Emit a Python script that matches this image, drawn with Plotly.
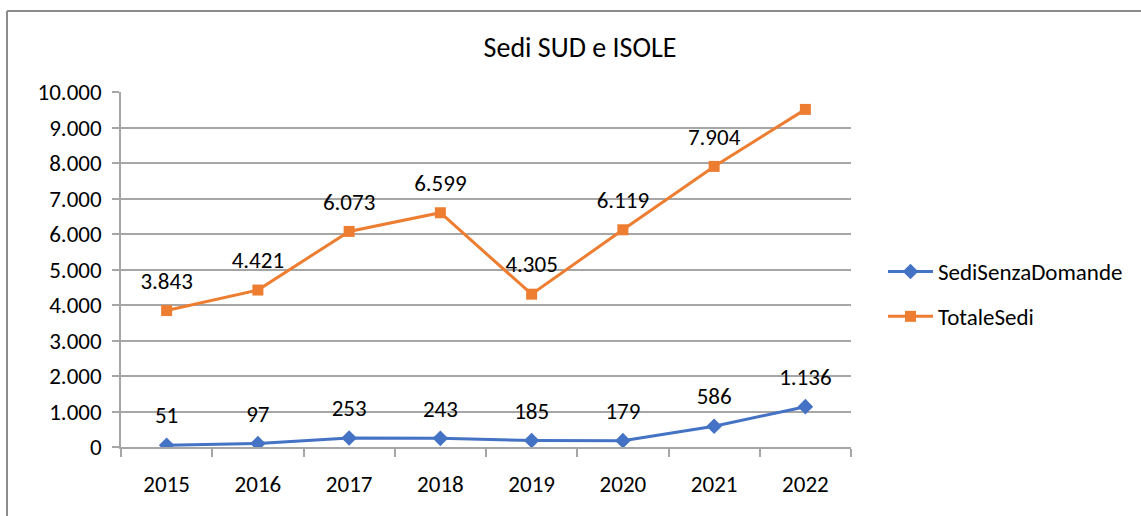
import plotly.graph_objects as go

years = ["2015", "2016", "2017", "2018", "2019", "2020", "2021", "2022"]
sedi_senza_domande = [51, 97, 253, 243, 185, 179, 586, 1136]
totale_sedi = [3843, 4421, 6073, 6599, 4305, 6119, 7904, 9510]
y_ticks = list(range(0, 10001, 1000))

FONT = "Calibri, Carlito, Lato, sans-serif"
BLUE = "#4472C4"
ORANGE = "#ED7D31"
GRID = "#A6A6A6"


def it_fmt(v):
    return f"{v:,}".replace(",", ".")


fig = go.Figure()
fig.add_trace(go.Scatter(
    x=years, y=sedi_senza_domande, name="SediSenzaDomande",
    mode="lines+markers", legendgroup="a",
    line=dict(color=BLUE, width=3),
    marker=dict(symbol="diamond", size=12, color=BLUE),
))
fig.add_trace(go.Scatter(
    x=years, y=totale_sedi, name="TotaleSedi",
    mode="lines+markers", legendgroup="b",
    line=dict(color=ORANGE, width=3),
    marker=dict(symbol="square", size=11, color=ORANGE),
))

# data labels: text traces above the points (invisible marker gives the offset)
for series in (sedi_senza_domande, totale_sedi):
    fig.add_trace(go.Scatter(
        x=years, y=series, mode="markers+text",
        text=[it_fmt(v) for v in series], textposition="top center",
        textfont=dict(family=FONT, size=23, color="#000000"),
        marker=dict(size=24, opacity=0, color="white"),
        showlegend=False, hoverinfo="skip",
    ))

L, R, T, B = 121, 851, 92, 447
W, H = R - L, B - T


def px_x(px):
    return (px - L) / W


def px_y(py):
    return (B - py) / H


shapes = [
    dict(type="line", xref="paper", yref="paper", x0=px_x(7), x1=px_x(1145),
         y0=px_y(11), y1=px_y(11), line=dict(color="#8C8C8C", width=2)),
    dict(type="line", xref="paper", yref="paper", x0=px_x(7), x1=px_x(7),
         y0=px_y(11), y1=px_y(520), line=dict(color="#8C8C8C", width=2)),
]

fig.update_layout(
    width=1141, height=516, autosize=False,
    margin=dict(l=L, r=1141 - R, t=T, b=516 - B),
    paper_bgcolor="white", plot_bgcolor="white",
    separators=",.",
    title=dict(text="Sedi SUD e ISOLE", x=580 / 1141, xanchor="center",
               y=1 - 47 / 516, yanchor="middle",
               font=dict(family=FONT, size=28, color="#000000")),
    font=dict(family=FONT, size=23, color="#000000"),
    showlegend=True,
    legend=dict(x=px_x(883), xanchor="left", y=px_y(294), yanchor="middle",
                font=dict(family=FONT, size=23, color="#000000"),
                tracegroupgap=12, itemwidth=45, bgcolor="rgba(0,0,0,0)"),
    shapes=shapes,
)
fig.update_xaxes(
    type="category", range=[-0.5, 7.5],
    showline=True, linecolor=GRID, linewidth=1.5,
    showgrid=False, ticks="outside", tickson="boundaries",
    ticklen=8, tickcolor=GRID, tickwidth=1.5,
    ticklabelstandoff=16,
    tickfont=dict(family=FONT, size=23, color="#000000"),
)
fig.update_yaxes(
    range=[0, 10000], tickvals=y_ticks, tickformat=",d",
    showline=True, linecolor=GRID, linewidth=1.5,
    showgrid=True, gridcolor=GRID, gridwidth=1.5,
    ticks="outside", ticklen=7, tickcolor=GRID, tickwidth=1.5,
    ticklabelstandoff=6, zeroline=False,
    tickfont=dict(family=FONT, size=23, color="#000000"),
)

fig.write_html("out.html", config={"displayModeBar": False},
               post_script="document.body.style.margin='0';")
